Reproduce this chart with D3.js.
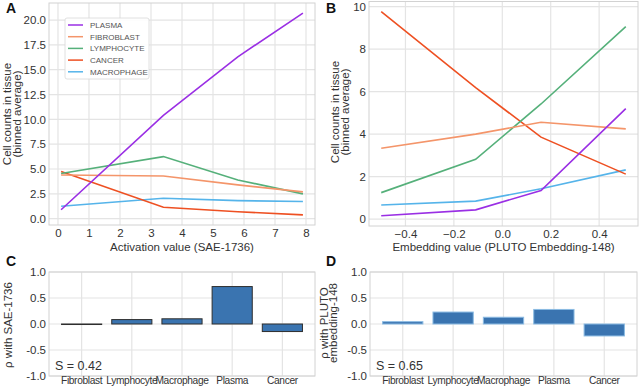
<!DOCTYPE html>
<html>
<head>
<meta charset="utf-8">
<script src="https://cdn.jsdelivr.net/npm/d3@7"></script>
<style>
  body { margin: 0; background: #fff; }
  svg text { font-family: "Liberation Sans", Arial, sans-serif; }
</style>
</head>
<body>
<svg id="fig" width="640" height="387"></svg>
<script>
// cell types, in legend order
var cellTypes = ['PLASMA', 'FIBROBLAST', 'LYMPHOCYTE', 'CANCER', 'MACROPHAGE'];
var colors = ['#9a2fe4', '#f4956a', '#55b07a', '#ee5022', '#55b4ea'];

// panel A: binned SAE-1736 activation
var actBins = [0.1, 3.4, 5.8, 7.9];
var actPlasma = [0.9, 10.4, 16.3, 20.7];
var actFibro = [4.4, 4.3, 3.4, 2.7];
var actLymph = [4.55, 6.25, 3.9, 2.5];
var actCancer = [4.75, 1.15, 0.7, 0.38];
var actMacro = [1.25, 2.05, 1.82, 1.73];

// panel B: binned PLUTO embedding-148
var embBins = [-0.5, -0.11, 0.16, 0.51];
var embPlasma = [0.16, 0.44, 1.35, 5.2];
var embFibro = [3.34, 4.0, 4.56, 4.25];
var embLymph = [1.25, 2.82, 5.42, 9.06];
var embCancer = [9.76, 6.19, 3.86, 2.12];
var embMacro = [0.67, 0.85, 1.43, 2.32];

// panels C, D: correlations
var corrCats = ['Fibroblast', 'Lymphocyte', 'Macrophage', 'Plasma', 'Cancer'];
var rhoSAE = [-0.01, 0.085, 0.1, 0.72, -0.145];
var rhoPLUTO = [0.045, 0.23, 0.13, 0.28, -0.23];

var ticksA_y = [0, 2.5, 5, 7.5, 10, 12.5, 15, 17.5, 20];
var ticksA_x = [0, 1, 2, 3, 4, 5, 6, 7, 8];
var ticksB_y = [0, 2, 4, 6, 8, 10];
var ticksB_x = [-0.4, -0.2, 0.0, 0.2, 0.4];
var ticksRho = [-1, -0.5, 0, 0.5, 1];

var svg = d3.select('#fig');
var gridCol = '#e4e4e4', spineCol = '#d2d2d2', tickCol = '#333';

function pad(ext) {
  var m = (ext[1] - ext[0]) * 0.05;
  return [ext[0] - m, ext[1] + m];
}

function frame(g, x0, y0, x1, y1) {
  g.append('rect').attr('x', x0).attr('y', y0)
    .attr('width', x1 - x0).attr('height', y1 - y0)
    .attr('fill', 'none').attr('stroke', spineCol).attr('stroke-width', 1);
}

function styleAxis(a, size) {
  a.select('.domain').remove();
  a.selectAll('text').attr('font-size', size).attr('fill', tickCol)
    .style('font-family', '"Liberation Sans", Arial, sans-serif');
  return a;
}

function linePanel(opts) {
  var g = svg.append('g');
  var allY = d3.merge(opts.series);
  var x = d3.scaleLinear().domain(pad(d3.extent(opts.bins))).range([opts.x0, opts.x1]);
  var y = d3.scaleLinear().domain(pad(d3.extent(allY))).range([opts.y1, opts.y0]);

  g.selectAll('.vg').data(opts.xt).enter().append('line')
    .attr('x1', function(d) { return x(d); }).attr('x2', function(d) { return x(d); })
    .attr('y1', opts.y0).attr('y2', opts.y1)
    .attr('stroke', gridCol).attr('stroke-width', 1.2);
  g.selectAll('.hg').data(opts.yt).enter().append('line')
    .attr('y1', function(d) { return y(d); }).attr('y2', function(d) { return y(d); })
    .attr('x1', opts.x0).attr('x2', opts.x1)
    .attr('stroke', gridCol).attr('stroke-width', 1.2);
  frame(g, opts.x0, opts.y0, opts.x1, opts.y1);

  var ya = d3.axisLeft(y).tickValues(opts.yt).tickSize(0).tickPadding(3).tickFormat(opts.yf);
  styleAxis(g.append('g').attr('transform', 'translate(' + opts.x0 + ',0)').call(ya), 11.5);
  var xa = d3.axisBottom(x).tickValues(opts.xt).tickSize(0).tickPadding(4).tickFormat(opts.xf);
  styleAxis(g.append('g').attr('transform', 'translate(0,' + opts.y1 + ')').call(xa), 11.5);

  var line = d3.line().x(function(d, i) { return x(opts.bins[i]); }).y(function(d) { return y(d); });
  // draw in reverse so the first series sits on top
  opts.series.slice().reverse().forEach(function(s, k) {
    var i = opts.series.length - 1 - k;
    g.append('path').datum(s).attr('d', line)
      .attr('fill', 'none').attr('stroke', colors[i]).attr('stroke-width', 1.6);
  });
  return g;
}

function yLabel(lines, cy, xs) {
  lines.forEach(function(t, i) {
    svg.append('text')
      .attr('transform', 'translate(' + xs[i] + ',' + cy + ') rotate(-90)')
      .attr('text-anchor', 'middle').attr('font-size', 11.5).attr('fill', tickCol)
      .text(t);
  });
}

function letter(t, x, y) {
  svg.append('text').attr('x', x).attr('y', y).attr('font-size', 14)
    .attr('font-weight', 'bold').attr('fill', '#111').text(t);
}

// ---- panel A
linePanel({
  x0: 49, x1: 315, y0: 3, y1: 225,
  bins: actBins, series: [actPlasma, actFibro, actLymph, actCancer, actMacro],
  xt: ticksA_x, yt: ticksA_y,
  xf: d3.format('d'), yf: d3.format('.1f')
});

// legend
var leg = svg.append('g');
leg.append('rect').attr('x', 65).attr('y', 18).attr('width', 84).attr('height', 61)
  .attr('rx', 2).attr('fill', '#fff').attr('fill-opacity', 0.9)
  .attr('stroke', '#d8d8d8').attr('stroke-width', 0.8);
cellTypes.forEach(function(c, i) {
  var yy = 25 + i * 11.7;
  leg.append('line').attr('x1', 68).attr('x2', 83).attr('y1', yy).attr('y2', yy)
    .attr('stroke', colors[i]).attr('stroke-width', 1.5);
  leg.append('text').attr('x', 90).attr('y', yy + 3).attr('font-size', 8)
    .attr('fill', '#555').text(c);
});

// ---- panel B
linePanel({
  x0: 369, x1: 638, y0: 1.5, y1: 226,
  bins: embBins, series: [embPlasma, embFibro, embLymph, embCancer, embMacro],
  xt: ticksB_x, yt: ticksB_y,
  xf: d3.format('.1f'), yf: d3.format('d')
});

yLabel(['Cell counts in tissue', '(binned average)'], 114, [11, 21]);
yLabel(['Cell counts in tissue', '(binned average)'], 112, [339, 349]);

letter('A', 6, 13);
letter('B', 326, 13);

// ---- bar panels
function barPanel(opts) {
  var g = svg.append('g');
  var x = d3.scaleBand().domain(corrCats).range([opts.x0, opts.x1])
    .paddingInner(0.2).paddingOuter(0.25);
  var y = d3.scaleLinear().domain([-1, 1]).range([opts.y1, opts.y0]);

  g.selectAll('.vg').data(corrCats).enter().append('line')
    .attr('x1', function(d) { return x(d) + x.bandwidth() / 2; })
    .attr('x2', function(d) { return x(d) + x.bandwidth() / 2; })
    .attr('y1', opts.y0).attr('y2', opts.y1)
    .attr('stroke', gridCol).attr('stroke-width', 1.2);
  g.selectAll('.hg').data(ticksRho).enter().append('line')
    .attr('y1', function(d) { return y(d); }).attr('y2', function(d) { return y(d); })
    .attr('x1', opts.x0).attr('x2', opts.x1)
    .attr('stroke', gridCol).attr('stroke-width', 1.2);
  frame(g, opts.x0, opts.y0, opts.x1, opts.y1);

  g.selectAll('.bar').data(opts.vals).enter().append('rect')
    .attr('x', function(d, i) { return x(corrCats[i]); })
    .attr('width', x.bandwidth())
    .attr('y', function(d) { return y(Math.max(0, d)); })
    .attr('height', function(d) { return Math.abs(y(d) - y(0)); })
    .attr('fill', '#3a74b0')
    .attr('stroke', opts.edge).attr('stroke-width', 1);

  var ya = d3.axisLeft(y).tickValues(ticksRho).tickSize(0).tickPadding(3)
    .tickFormat(function(d) { return d3.format('.1f')(d).replace('−', '-'); });
  styleAxis(g.append('g').attr('transform', 'translate(' + opts.x0 + ',0)').call(ya), 11.5);
  var xa = d3.axisBottom(x).tickSize(0).tickPadding(1);
  styleAxis(g.append('g').attr('transform', 'translate(0,' + opts.y1 + ')').call(xa), 10.2)
    .selectAll('text').attr('letter-spacing', -0.35);

  g.append('text').attr('x', opts.x0 + 6).attr('y', opts.y1 - 6)
    .attr('font-size', 12.5).attr('fill', tickCol).text(opts.s);
  g.append('text').attr('x', (opts.x0 + opts.x1) / 2).attr('y', opts.y0 - 21)
    .attr('text-anchor', 'middle').attr('font-size', 11.5).attr('fill', tickCol)
    .text(opts.title);
  return g;
}

barPanel({ x0: 49, x1: 315, y0: 272, y1: 376, vals: rhoSAE, edge: '#2e2e2e',
  s: 'S = 0.42', title: 'Activation value (SAE-1736)' });
barPanel({ x0: 370, x1: 637, y0: 272, y1: 376, vals: rhoPLUTO, edge: '#8bbbe3',
  s: 'S = 0.65', title: 'Embedding value (PLUTO Embedding-148)' });

yLabel(['ρ with SAE-1736'], 325, [12]);
yLabel(['ρ with PLUTO', 'embedding-148'], 323, [328, 337]);

letter('C', 6, 266);
letter('D', 326, 266);
</script>
</body>
</html>
